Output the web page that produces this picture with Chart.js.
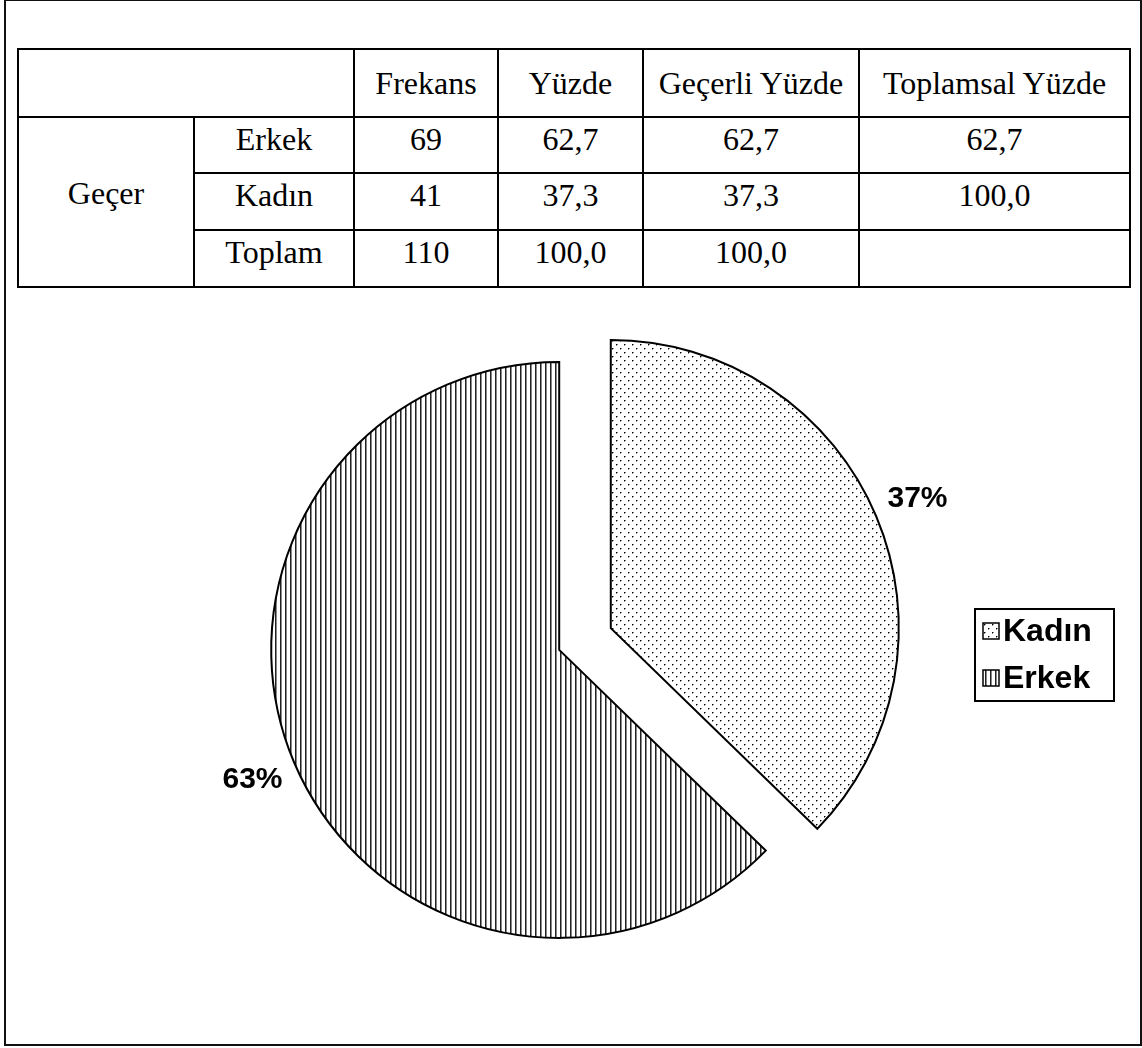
<!DOCTYPE html>
<html lang="tr">
<head>
<meta charset="utf-8">
<title>Geçer - Cinsiyet dağılımı</title>
<script src="https://cdn.jsdelivr.net/npm/chart.js@4.4.1/dist/chart.umd.min.js"></script>
<style>
  body { margin: 0; background: #fff; }
  #frame { position: absolute; left: 4px; top: -1px; width: 1134px; height: 1043px; border: 2px solid #111; }
  #chartCanvas { position: absolute; left: 0; top: 0; }
  #freqTable { position: absolute; left: 17px; top: 48px; border-collapse: collapse; table-layout: fixed;
               font-family: "Liberation Serif", "Times New Roman", serif; font-size: 32px; color: #000;
               background: #fff; z-index: 2; }
  #freqTable td { border: 2px solid #000; text-align: center; padding: 0; line-height: 36px; white-space: nowrap; }
  #freqTable tr.head td { vertical-align: middle; }
  #freqTable tr.data td { vertical-align: top; padding-top: 3px; }
  #freqTable td.group { vertical-align: middle !important; padding: 0 0 18px 0 !important; }
</style>
</head>
<body>
<div id="frame"></div>
<canvas id="chartCanvas" width="1142" height="1048"></canvas>
<table id="freqTable"></table>
<script>
// table values
const headers = ['Frekans', 'Yüzde', 'Geçerli Yüzde', 'Toplamsal Yüzde'];
const groupLabel = 'Geçer';
const rowLabels = ['Erkek', 'Kadın', 'Toplam'];
const frekans = ['69', '41', '110'];
const yuzde = ['62,7', '37,3', '100,0'];
const gecerliYuzde = ['62,7', '37,3', '100,0'];
const toplamsalYuzde = ['62,7', '100,0', ''];

// pie values
const pieLabels = ['Kadın', 'Erkek'];
const pieValues = [41, 69];

// layout
const colWidths = [176, 160, 144, 145, 216, 271];
const rowHeights = [68, 56, 57, 57];

const table = document.getElementById('freqTable');
const colgroup = document.createElement('colgroup');
colWidths.forEach(w => {
  const c = document.createElement('col');
  c.style.width = w + 'px';
  colgroup.appendChild(c);
});
table.appendChild(colgroup);

const headRow = table.insertRow();
headRow.className = 'head';
headRow.style.height = rowHeights[0] + 'px';
const corner = headRow.insertCell();
corner.colSpan = 2;
headers.forEach(h => { headRow.insertCell().textContent = h; });

rowLabels.forEach((lab, i) => {
  const tr = table.insertRow();
  tr.className = 'data';
  tr.style.height = rowHeights[i + 1] + 'px';
  if (i === 0) {
    const g = tr.insertCell();
    g.rowSpan = rowLabels.length;
    g.className = 'group';
    g.textContent = groupLabel;
  }
  [lab, frekans[i], yuzde[i], gecerliYuzde[i], toplamsalYuzde[i]].forEach(v => {
    tr.insertCell().textContent = v;
  });
});

// hatch patterns
function makeDots() {
  const c = document.createElement('canvas');
  c.width = 8; c.height = 8;
  const g = c.getContext('2d');
  g.fillStyle = '#fff';
  g.fillRect(0, 0, 8, 8);
  [[0, 0], [4, 4]].forEach(([x, y]) => {
    g.fillStyle = '#000';
    g.fillRect(x, y, 1, 1);
    g.fillStyle = '#888';
    g.fillRect(x + 1, y, 1, 1);
    g.fillRect(x, y + 1, 1, 1);
  });
  return g.createPattern(c, 'repeat');
}
function makeLines() {
  const c = document.createElement('canvas');
  c.width = 5; c.height = 1;
  const g = c.getContext('2d');
  g.fillStyle = '#fff';
  g.fillRect(0, 0, 5, 1);
  g.fillStyle = '#222';
  g.fillRect(0, 0, 1, 1);
  g.fillStyle = '#888';
  g.fillRect(1, 0, 1, 1);
  return g.createPattern(c, 'repeat');
}

const EXPLODE = 28;
const LABEL_GAP = 45;

const explodePlugin = {
  id: 'explode',
  afterDatasetsUpdate(chart) {
    chart.getDatasetMeta(0).data.forEach(arc => {
      const mid = (arc.startAngle + arc.endAngle) / 2;
      arc.x += Math.cos(mid) * EXPLODE;
      arc.y += Math.sin(mid) * EXPLODE;
    });
  }
};

const pctPlugin = {
  id: 'pctLabels',
  afterDatasetsDraw(chart) {
    const ctx = chart.ctx;
    const data = chart.data.datasets[0].data;
    const total = data.reduce((a, b) => a + b, 0);
    ctx.save();
    ctx.font = 'bold 30px "Liberation Sans", Arial, sans-serif';
    ctx.fillStyle = '#000';
    ctx.textAlign = 'center';
    ctx.textBaseline = 'middle';
    chart.getDatasetMeta(0).data.forEach((arc, i) => {
      const mid = (arc.startAngle + arc.endAngle) / 2;
      const r = arc.outerRadius + LABEL_GAP;
      ctx.fillText(Math.round(data[i] / total * 100) + '%', arc.x + Math.cos(mid) * r, arc.y + Math.sin(mid) * r);
    });
    ctx.restore();
  }
};

const boxLegend = {
  id: 'boxLegend',
  afterDraw(chart) {
    const ctx = chart.ctx;
    const ds = chart.data.datasets[0];
    const left = 975, top = 609, w = 139, h = 92;
    ctx.save();
    ctx.lineWidth = 2;
    ctx.strokeStyle = '#000';
    ctx.strokeRect(left, top, w, h);
    ctx.font = 'bold 32px "Liberation Sans", Arial, sans-serif';
    ctx.textBaseline = 'middle';
    chart.data.labels.forEach((lab, i) => {
      const cy = top + 22 + i * 47;
      ctx.fillStyle = ds.backgroundColor[i];
      ctx.fillRect(983, cy - 8, 16, 16);
      ctx.lineWidth = 1.5;
      ctx.strokeRect(983, cy - 8, 16, 16);
      ctx.fillStyle = '#000';
      ctx.fillText(lab, 1003, cy + 1);
    });
    ctx.restore();
  }
};

const ctx = document.getElementById('chartCanvas');
const chart = new Chart(ctx, {
  type: 'pie',
  data: {
    labels: pieLabels,
    datasets: [{
      data: pieValues,
      backgroundColor: [makeDots(), makeLines()],
      borderColor: '#000',
      borderWidth: 2,
      borderJoinStyle: 'miter',
      clip: false
    }]
  },
  options: {
    responsive: false,
    animation: false,
    events: [],
    radius: 288,
    layout: { padding: { left: 28, right: 0, top: 230, bottom: 0 } },
    plugins: {
      legend: { display: false },
      tooltip: { enabled: false }
    }
  },
  plugins: [explodePlugin, pctPlugin, boxLegend]
});
</script>
</body>
</html>
